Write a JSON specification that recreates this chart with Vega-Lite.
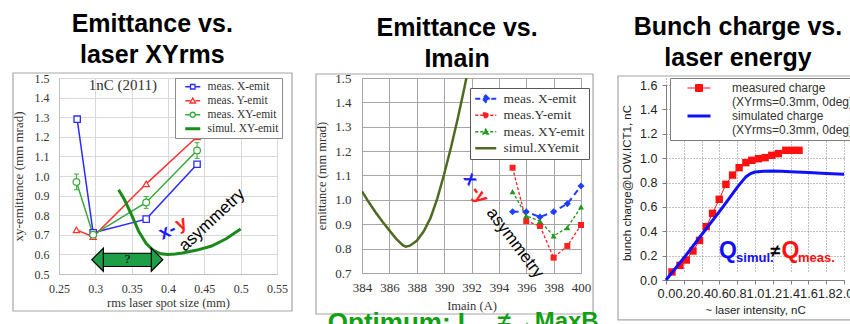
{
  "$schema": "https://vega.github.io/schema/vega-lite/v6.json",
  "padding": {"left": 11, "top": 11, "right": 0, "bottom": 0},
  "spacing": 85,
  "bounds": "flush",
  "background": "white",
  "resolve": {"scale": {"color": "independent", "x": "independent", "y": "independent"}, "legend": {"color": "independent"}},
  "config": {
    "title": {"font": "Liberation Sans", "fontSize": 25, "fontWeight": "bold", "color": "black", "lineHeight": 31, "anchor": "middle", "frame": "bounds"},
    "axis": {"labelFlush": false, "labelOverlap": false, "titleFontWeight": "normal"}
  },
  "datasets": {
    "p1": [
      {"s": "meas. X-emit", "x": 0.275, "y": 1.29}, {"s": "meas. X-emit", "x": 0.297, "y": 0.71}, {"s": "meas. X-emit", "x": 0.37, "y": 0.78}, {"s": "meas. X-emit", "x": 0.44, "y": 1.06},
      {"s": "meas. Y-emit", "x": 0.274, "y": 0.725}, {"s": "meas. Y-emit", "x": 0.297, "y": 0.69}, {"s": "meas. Y-emit", "x": 0.37, "y": 0.96}, {"s": "meas. Y-emit", "x": 0.44, "y": 1.2},
      {"s": "meas. XY-emit", "x": 0.274, "y": 0.97}, {"s": "meas. XY-emit", "x": 0.297, "y": 0.7}, {"s": "meas. XY-emit", "x": 0.37, "y": 0.865}, {"s": "meas. XY-emit", "x": 0.44, "y": 1.13}
    ],
    "p1err": [{"x": 0.274, "y": 0.93, "ye": 1.01}, {"x": 0.37, "y": 0.835, "ye": 0.895}, {"x": 0.44, "y": 1.09, "ye": 1.17}],
    "p1sim": [
      {"s": "simul. XY-emit", "x": 0.332, "y": 0.93}, {"s": "simul. XY-emit", "x": 0.34, "y": 0.88}, {"s": "simul. XY-emit", "x": 0.35, "y": 0.8},
      {"s": "simul. XY-emit", "x": 0.36, "y": 0.715}, {"s": "simul. XY-emit", "x": 0.37, "y": 0.655}, {"s": "simul. XY-emit", "x": 0.38, "y": 0.62},
      {"s": "simul. XY-emit", "x": 0.39, "y": 0.603}, {"s": "simul. XY-emit", "x": 0.4, "y": 0.6}, {"s": "simul. XY-emit", "x": 0.41, "y": 0.602},
      {"s": "simul. XY-emit", "x": 0.42, "y": 0.607}, {"s": "simul. XY-emit", "x": 0.44, "y": 0.622}, {"s": "simul. XY-emit", "x": 0.46, "y": 0.643},
      {"s": "simul. XY-emit", "x": 0.48, "y": 0.68}, {"s": "simul. XY-emit", "x": 0.5, "y": 0.73}
    ],
    "p2": [
      {"s": "meas. X-emit", "x": 395, "y": 0.951}, {"s": "meas. X-emit", "x": 396, "y": 0.951}, {"s": "meas. X-emit", "x": 397, "y": 0.93}, {"s": "meas. X-emit", "x": 398, "y": 0.951}, {"s": "meas. X-emit", "x": 399, "y": 0.984}, {"s": "meas. X-emit", "x": 400, "y": 1.057},
      {"s": "meas.Y-emit", "x": 395, "y": 1.132}, {"s": "meas.Y-emit", "x": 396, "y": 0.913}, {"s": "meas.Y-emit", "x": 397, "y": 0.893}, {"s": "meas.Y-emit", "x": 398, "y": 0.763}, {"s": "meas.Y-emit", "x": 399, "y": 0.811}, {"s": "meas.Y-emit", "x": 400, "y": 0.897},
      {"s": "meas. XY-emit", "x": 395, "y": 1.034}, {"s": "meas. XY-emit", "x": 396, "y": 0.934}, {"s": "meas. XY-emit", "x": 397, "y": 0.913}, {"s": "meas. XY-emit", "x": 398, "y": 0.852}, {"s": "meas. XY-emit", "x": 399, "y": 0.886}, {"s": "meas. XY-emit", "x": 400, "y": 0.971}
    ],
    "p2sim": [
      {"s": "simul.XYemit", "x": 384, "y": 1.035}, {"s": "simul.XYemit", "x": 384.5, "y": 0.99}, {"s": "simul.XYemit", "x": 385, "y": 0.948},
      {"s": "simul.XYemit", "x": 385.5, "y": 0.91}, {"s": "simul.XYemit", "x": 386, "y": 0.875}, {"s": "simul.XYemit", "x": 386.5, "y": 0.84},
      {"s": "simul.XYemit", "x": 387, "y": 0.813}, {"s": "simul.XYemit", "x": 387.2, "y": 0.808}, {"s": "simul.XYemit", "x": 387.5, "y": 0.812},
      {"s": "simul.XYemit", "x": 388, "y": 0.832}, {"s": "simul.XYemit", "x": 388.5, "y": 0.87}, {"s": "simul.XYemit", "x": 389, "y": 0.925},
      {"s": "simul.XYemit", "x": 389.5, "y": 1.005}, {"s": "simul.XYemit", "x": 390, "y": 1.105}, {"s": "simul.XYemit", "x": 390.5, "y": 1.215},
      {"s": "simul.XYemit", "x": 391, "y": 1.335}, {"s": "simul.XYemit", "x": 391.5, "y": 1.465}, {"s": "simul.XYemit", "x": 391.8, "y": 1.55}
    ],
    "p3m": [
      {"s": "measured charge", "x": 0.067, "y": 0.066}, {"s": "measured charge", "x": 0.157, "y": 0.12}, {"s": "measured charge", "x": 0.228, "y": 0.164},
      {"s": "measured charge", "x": 0.303, "y": 0.238}, {"s": "measured charge", "x": 0.377, "y": 0.325}, {"s": "measured charge", "x": 0.452, "y": 0.438},
      {"s": "measured charge", "x": 0.523, "y": 0.547}, {"s": "measured charge", "x": 0.598, "y": 0.662}, {"s": "measured charge", "x": 0.673, "y": 0.785},
      {"s": "measured charge", "x": 0.748, "y": 0.861}, {"s": "measured charge", "x": 0.822, "y": 0.922}, {"s": "measured charge", "x": 0.897, "y": 0.963},
      {"s": "measured charge", "x": 0.964, "y": 0.982}, {"s": "measured charge", "x": 1.039, "y": 0.995}, {"s": "measured charge", "x": 1.114, "y": 1.004},
      {"s": "measured charge", "x": 1.189, "y": 1.023}, {"s": "measured charge", "x": 1.263, "y": 1.037}, {"s": "measured charge", "x": 1.346, "y": 1.064},
      {"s": "measured charge", "x": 1.421, "y": 1.064}, {"s": "measured charge", "x": 1.495, "y": 1.064}
    ],
    "p3s": [
      {"s": "simulated charge", "x": 0, "y": 0}, {"s": "simulated charge", "x": 0.2, "y": 0.18}, {"s": "simulated charge", "x": 0.43, "y": 0.4},
      {"s": "simulated charge", "x": 0.64, "y": 0.6}, {"s": "simulated charge", "x": 0.8, "y": 0.76}, {"s": "simulated charge", "x": 0.85, "y": 0.805},
      {"s": "simulated charge", "x": 0.9, "y": 0.848}, {"s": "simulated charge", "x": 0.95, "y": 0.873}, {"s": "simulated charge", "x": 1.0, "y": 0.886},
      {"s": "simulated charge", "x": 1.1, "y": 0.893}, {"s": "simulated charge", "x": 1.2, "y": 0.894}, {"s": "simulated charge", "x": 1.3, "y": 0.892},
      {"s": "simulated charge", "x": 1.4, "y": 0.889}, {"s": "simulated charge", "x": 1.6, "y": 0.882}, {"s": "simulated charge", "x": 1.8, "y": 0.874},
      {"s": "simulated charge", "x": 2.0, "y": 0.867}
    ]
  },
  "hconcat": [
    {
      "width": 218, "height": 196,
      "title": {"text": ["Emittance vs.", "laser XYrms"], "offset": 4},
      "view": {"stroke": "#d0d0d0"},
      "encoding": {
        "x": {"field": "x", "type": "quantitative", "scale": {"domain": [0.25, 0.55], "nice": false, "zero": false},
          "axis": {"title": "rms laser spot size (mm)", "tickCount": 7, "format": ".2~f", "labelFlush": false, "labelOverlap": false, "labelBound": false, "grid": true, "gridColor": "#d9d9d9", "domainColor": "#bfbfbf", "ticks": false, "labelPadding": 9, "titlePadding": 2, "labelFont": "Liberation Serif", "labelFontSize": 12, "labelColor": "#333", "titleFont": "Liberation Serif", "titleFontSize": 12.5, "titleColor": "#333"}},
        "y": {"field": "y", "type": "quantitative", "scale": {"domain": [0.5, 1.5], "nice": false, "zero": false},
          "axis": {"title": "xy-emittance (mm mrad)", "values": [0.5, 0.6, 0.7, 0.8, 0.9, 1.0, 1.1, 1.2, 1.3, 1.4, 1.5], "format": ".1f", "labelFlush": false, "grid": true, "gridColor": "#d9d9d9", "domainColor": "#bfbfbf", "ticks": false, "labelPadding": 10, "titlePadding": 9, "labelFont": "Liberation Serif", "labelFontSize": 12, "labelColor": "#333", "titleFont": "Liberation Serif", "titleFontSize": 13, "titleColor": "#333"}}
      },
      "layer": [
        {"data": {"values": [{"x": 0.1867, "xe": 0.5706, "y": 1.5255, "ye": 0.3112}]}, "mark": {"type": "rect", "fillOpacity": 0, "stroke": "#a6a6a6", "strokeWidth": 1.2, "clip": false}, "encoding": {"x2": {"field": "xe"}, "y2": {"field": "ye"}}},
        {"data": {"values": [{"x": 0.338, "y": 1.464, "t": "1nC (2011)"}]}, "mark": {"type": "text", "font": "Liberation Serif", "fontSize": 15, "color": "#333"}, "encoding": {"text": {"field": "t"}}},
        {"data": {"name": "p1"}, "mark": {"type": "line", "strokeWidth": 1.5},
          "encoding": {"color": {"field": "s", "type": "nominal",
            "scale": {"domain": ["meas. X-emit", "meas. Y-emit", "meas. XY-emit", "simul. XY-emit"], "range": ["#2b2bff", "#ff3030", "#3aa83a", "#1a8a1a"]},
            "legend": {"title": null, "orient": "none", "legendX": 116, "legendY": 0, "fillColor": "white", "strokeColor": "#8c8c8c", "padding": 3,
              "labelFont": "Liberation Serif", "labelFontSize": 11.5, "labelColor": "#333", "symbolSize": 100, "symbolOffset": 9, "labelOffset": 9, "rowPadding": 1,
              "encode": {"symbols": {"update": {
                "shape": {"signal": "datum.value === 'meas. X-emit' ? 'M-1.5,0H-0.45M0.45,0H1.5M-0.45,-0.45H0.45V0.45H-0.45Z' : datum.value === 'meas. Y-emit' ? 'M-1.5,0H-0.5M0.5,0H1.5M0,-0.55L0.55,0.45H-0.55Z' : datum.value === 'meas. XY-emit' ? 'M-1.5,0H-0.5M0.5,0H1.5M0.5,0A0.5,0.5,0,1,1,-0.5,0A0.5,0.5,0,1,1,0.5,0' : 'M-1.5,0H1.5'"},
                "strokeWidth": {"signal": "datum.value === 'simul. XY-emit' ? 3 : 1.3"},
                "fill": {"value": "white"}, "opacity": {"value": 1}}}}}}}},
        {"data": {"name": "p1sim"}, "mark": {"type": "line", "strokeWidth": 3}, "encoding": {"color": {"field": "s", "type": "nominal"}}},
        {"data": {"name": "p1err"}, "mark": {"type": "rule", "color": "#3aa83a", "strokeWidth": 1}, "encoding": {"y2": {"field": "ye"}}},
        {"data": {"name": "p1err"}, "mark": {"type": "tick", "orient": "horizontal", "color": "#3aa83a", "size": 5, "thickness": 1, "opacity": 1}},
        {"data": {"name": "p1err"}, "mark": {"type": "tick", "orient": "horizontal", "color": "#3aa83a", "size": 5, "thickness": 1, "opacity": 1}, "encoding": {"y": {"field": "ye", "type": "quantitative"}}},
        {"data": {"name": "p1"}, "transform": [{"filter": "datum.s === 'meas. X-emit'"}], "mark": {"type": "point", "shape": "square", "filled": true, "fill": "white", "stroke": "#2b2bff", "strokeWidth": 1.3, "size": 40, "opacity": 1}},
        {"data": {"name": "p1"}, "transform": [{"filter": "datum.s === 'meas. Y-emit'"}], "mark": {"type": "point", "shape": "triangle-up", "filled": true, "fill": "white", "stroke": "#ff3030", "strokeWidth": 1.2, "size": 40, "opacity": 1}},
        {"data": {"name": "p1"}, "transform": [{"filter": "datum.s === 'meas. XY-emit'"}], "mark": {"type": "point", "shape": "circle", "filled": true, "fill": "white", "stroke": "#3aa83a", "strokeWidth": 1.2, "size": 45, "opacity": 1}},
        {"data": {"values": [{"x": 0.311, "xe": 0.377, "y": 0.605, "ye": 0.539}]}, "mark": {"type": "rect", "fill": "#1f9e48", "stroke": "black", "strokeWidth": 1.2}, "encoding": {"x2": {"field": "xe"}, "y2": {"field": "ye"}}},
        {"data": {"values": [{"x": 0.311, "y": 0.573}]}, "mark": {"type": "point", "shape": "M-1,0L0,-1L0,1Z", "size": 529, "filled": true, "fill": "#1f9e48", "stroke": "black", "strokeWidth": 1.2, "opacity": 1}},
        {"data": {"values": [{"x": 0.377, "y": 0.573}]}, "mark": {"type": "point", "shape": "M1,0L0,-1L0,1Z", "size": 529, "filled": true, "fill": "#1f9e48", "stroke": "black", "strokeWidth": 1.2, "opacity": 1}},
        {"data": {"values": [{"x": 0.312, "xe": 0.376, "y": 0.6035, "ye": 0.5405}]}, "mark": {"type": "rect", "fill": "#1f9e48"}, "encoding": {"x2": {"field": "xe"}, "y2": {"field": "ye"}}},
        {"data": {"values": [{"x": 0.344, "y": 0.574, "t": "?"}]}, "mark": {"type": "text", "font": "Liberation Serif", "fontSize": 13, "color": "black"}, "encoding": {"text": {"field": "t"}}},
        {"data": {"values": [{"x": 0.399, "y": 0.72, "t": "x-"}]}, "mark": {"type": "text", "font": "Liberation Sans", "fontSize": 19, "fontWeight": "bold", "color": "#1a1aff", "angle": -25}, "encoding": {"text": {"field": "t"}}},
        {"data": {"values": [{"x": 0.418, "y": 0.758, "t": "y"}]}, "mark": {"type": "text", "font": "Liberation Sans", "fontSize": 19, "fontWeight": "bold", "color": "#ff2020", "angle": -25}, "encoding": {"text": {"field": "t"}}},
        {"data": {"values": [{"x": 0.4605, "y": 0.7755, "t": "asymmetry"}]}, "mark": {"type": "text", "font": "Liberation Sans", "fontSize": 17, "color": "black", "angle": -43}, "encoding": {"text": {"field": "t"}}}
      ]
    },
    {
      "width": 219, "height": 195,
      "title": {"text": ["Emittance vs.", "Imain"], "offset": 0},
      "view": {"stroke": "#a6a6a6"},
      "encoding": {
        "x": {"field": "x", "type": "quantitative", "scale": {"domain": [384, 400], "nice": false, "zero": false},
          "axis": {"title": "Imain (A)", "values": [384, 386, 388, 390, 392, 394, 396, 398, 400], "format": "d", "labelFlush": false, "grid": true, "gridColor": "#a6a6a6", "domainColor": "#a6a6a6", "ticks": false, "labelPadding": 8, "titlePadding": 5, "labelFont": "Liberation Serif", "labelFontSize": 13, "labelColor": "#333", "titleFont": "Liberation Serif", "titleFontSize": 12.5, "titleColor": "#333"}},
        "y": {"field": "y", "type": "quantitative", "scale": {"domain": [0.7, 1.5], "nice": false, "zero": false},
          "axis": {"title": "emittance (mm mrad)", "values": [0.7, 0.8, 0.9, 1.0, 1.1, 1.2, 1.3, 1.4, 1.5], "format": ".1f", "labelFlush": false, "grid": true, "gridColor": "#a6a6a6", "domainColor": "#a6a6a6", "ticks": false, "labelPadding": 11, "titlePadding": 6, "labelFont": "Liberation Serif", "labelFontSize": 13, "labelColor": "#333", "titleFont": "Liberation Serif", "titleFontSize": 12.5, "titleColor": "#333"}}
      },
      "layer": [
        {"data": {"values": [{"x": 380.64, "xe": 400.88, "y": 1.5164, "ye": 0.5318}]}, "mark": {"type": "rect", "fillOpacity": 0, "stroke": "#a6a6a6", "strokeWidth": 1.2, "clip": false}, "encoding": {"x2": {"field": "xe"}, "y2": {"field": "ye"}}},
        {"data": {"name": "p2sim"}, "mark": {"type": "line", "strokeWidth": 2.5, "clip": true},
          "encoding": {"color": {"field": "s", "type": "nominal",
            "scale": {"domain": ["meas. X-emit", "meas.Y-emit", "meas. XY-emit", "simul.XYemit"], "range": ["#1f3fff", "#ff2020", "#1f9a1f", "#4e6b22"]},
            "legend": {"title": null, "orient": "none", "legendX": 108, "legendY": 10, "fillColor": "white", "strokeColor": "#595959", "padding": 4,
              "labelFont": "Liberation Serif", "labelFontSize": 13.5, "labelColor": "#333", "symbolSize": 100, "symbolOffset": 5, "labelOffset": 11, "rowPadding": 1.5,
              "encode": {"symbols": {"update": {
                "shape": {"signal": "datum.value === 'meas. X-emit' ? 'M-2.1,0H2.1M0,-0.65L0.65,0L0,0.65L-0.65,0Z' : datum.value === 'meas.Y-emit' ? 'M-2.1,0H2.1M-0.45,-0.45H0.45V0.45H-0.45Z' : datum.value === 'meas. XY-emit' ? 'M-2.1,0H2.1M0,-0.55L0.55,0.45H-0.55Z' : 'M-2.1,0H2.1'"},
                "strokeWidth": {"signal": "datum.value === 'simul.XYemit' ? 2.5 : datum.value === 'meas. X-emit' ? 2 : 1.3"},
                "strokeDash": {"signal": "datum.value === 'simul.XYemit' ? [] : datum.value === 'meas. X-emit' ? [5, 3] : [3, 2]"},
                "fill": {"signal": "datum.value === 'meas. X-emit' ? '#1f3fff' : datum.value === 'meas.Y-emit' ? '#ff2020' : datum.value === 'meas. XY-emit' ? '#1f9a1f' : 'none'"},
                "opacity": {"value": 1}}}}}}}},
        {"data": {"name": "p2"}, "transform": [{"filter": "datum.s === 'meas. X-emit'"}], "mark": {"type": "line", "strokeWidth": 2, "strokeDash": [6, 4]}, "encoding": {"color": {"field": "s", "type": "nominal"}}},
        {"data": {"name": "p2"}, "transform": [{"filter": "datum.s === 'meas.Y-emit'"}], "mark": {"type": "line", "strokeWidth": 1.3, "strokeDash": [3, 2]}, "encoding": {"color": {"field": "s", "type": "nominal"}}},
        {"data": {"name": "p2"}, "transform": [{"filter": "datum.s === 'meas. XY-emit'"}], "mark": {"type": "line", "strokeWidth": 1.3, "strokeDash": [3, 2]}, "encoding": {"color": {"field": "s", "type": "nominal"}}},
        {"data": {"name": "p2"}, "transform": [{"filter": "datum.s === 'meas. X-emit'"}], "mark": {"type": "point", "shape": "diamond", "filled": true, "color": "#1f3fff", "size": 50, "opacity": 1}},
        {"data": {"name": "p2"}, "transform": [{"filter": "datum.s === 'meas.Y-emit'"}], "mark": {"type": "point", "shape": "square", "filled": true, "color": "#ff2020", "size": 36, "opacity": 1}},
        {"data": {"name": "p2"}, "transform": [{"filter": "datum.s === 'meas. XY-emit'"}], "mark": {"type": "point", "shape": "triangle-up", "filled": true, "color": "#1f9a1f", "size": 36, "opacity": 1}},
        {"data": {"values": [{"x": 391.96, "y": 1.086, "t": "x"}]}, "mark": {"type": "text", "font": "Liberation Sans", "fontSize": 19, "fontWeight": "bold", "color": "#1a1aff", "angle": 55}, "encoding": {"text": {"field": "t"}}},
        {"data": {"values": [{"x": 392.6, "y": 1.022, "t": "-y"}]}, "mark": {"type": "text", "font": "Liberation Sans", "fontSize": 19, "fontWeight": "bold", "color": "#ff2020", "angle": 55}, "encoding": {"text": {"field": "t"}}},
        {"data": {"values": [{"x": 395.18, "y": 0.823, "t": "asymmetry"}]}, "mark": {"type": "text", "font": "Liberation Sans", "fontSize": 17, "color": "black", "angle": 53}, "encoding": {"text": {"field": "t"}}},
        {"data": {"values": [{"x": 381.5, "y": 0.548, "t": "Optimum: I"}]}, "mark": {"type": "text", "font": "Liberation Sans", "fontSize": 26, "fontWeight": "bold", "color": "#12a012", "align": "left", "baseline": "top", "clip": false}, "encoding": {"text": {"field": "t"}}},
        {"data": {"values": [{"x": 393.9, "y": 0.548, "t": "≠→MaxB"}]}, "mark": {"type": "text", "font": "Liberation Sans", "fontSize": 24, "fontWeight": "bold", "color": "#12a012", "align": "left", "baseline": "top", "clip": false}, "encoding": {"text": {"field": "t"}}}
      ]
    },
    {
      "width": 178, "height": 202,
      "title": {"text": ["Bunch charge vs.", "laser energy"], "offset": 4},
      "view": {"stroke": null},
      "encoding": {
        "x": {"field": "x", "type": "quantitative", "scale": {"domain": [0, 2], "nice": false, "zero": false},
          "axis": {"title": "~ laser intensity, nC", "values": [0, 0.2, 0.4, 0.6, 0.8, 1.0, 1.2, 1.4, 1.6, 1.8, 2.0], "format": ".1f", "labelFlush": false, "grid": true, "gridColor": "#808080", "gridDash": [1, 2], "domainColor": "#808080", "tickColor": "#808080", "tickSize": 4, "labelPadding": 3, "titlePadding": 5, "labelFont": "Liberation Sans", "labelFontSize": 12.8, "labelColor": "#222", "titleFont": "Liberation Sans", "titleFontSize": 11.5, "titleColor": "#222"}},
        "y": {"field": "y", "type": "quantitative", "scale": {"domain": [0, 1.6], "range": [202, 7], "nice": false, "zero": false},
          "axis": {"title": "bunch charge@LOW.ICT1, nC", "values": [0, 0.2, 0.4, 0.6, 0.8, 1.0, 1.2, 1.4, 1.6], "format": ".1f", "labelFlush": false, "grid": true, "gridColor": "#808080", "gridDash": [1, 2], "domainColor": "#808080", "tickColor": "#808080", "tickSize": 4, "labelPadding": 5, "titlePadding": 7, "labelFont": "Liberation Sans", "labelFontSize": 12.5, "labelColor": "#222", "titleFont": "Liberation Sans", "titleFontSize": 11.5, "titleColor": "#222"}}
      },
      "layer": [
        {"data": {"values": [{"x": -0.539, "xe": 2.15, "y": 1.674, "ye": -0.328}]}, "mark": {"type": "rect", "fillOpacity": 0, "stroke": "#a6a6a6", "strokeWidth": 1.2, "clip": false}, "encoding": {"x2": {"field": "xe"}, "y2": {"field": "ye"}}},
        {"data": {"name": "p3m"}, "mark": {"type": "line", "strokeWidth": 1},
          "encoding": {"color": {"field": "s", "type": "nominal",
            "scale": {"domain": ["measured charge", "simulated charge"], "range": ["#ff1010", "#1010ff"]},
            "legend": {"title": null, "orient": "none", "legendX": 4, "legendY": 0, "fillColor": "white", "strokeColor": "#808080", "padding": 4,
              "labelFont": "Liberation Sans", "labelFontSize": 12, "labelColor": "#333", "labelLineHeight": 14.3, "symbolSize": 100, "symbolOffset": 19, "labelOffset": 27, "rowPadding": 2,
              "labelExpr": "[datum.label, '(XYrms=0.3mm, 0deg)']",
              "encode": {"symbols": {"update": {
                "shape": {"signal": "datum.value === 'measured charge' ? 'M-2.3,0H2.3M-0.7,-0.7H0.7V0.7H-0.7Z' : 'M-2.3,0H2.3'"},
                "strokeWidth": {"signal": "datum.value === 'measured charge' ? 1 : 3"},
                "fill": {"signal": "datum.value === 'measured charge' ? '#ff1010' : 'none'"},
                "opacity": {"value": 1}}}}}}}},
        {"data": {"name": "p3m"}, "mark": {"type": "point", "shape": "square", "filled": true, "color": "#ff1010", "size": 55, "opacity": 1}},
        {"data": {"name": "p3s"}, "mark": {"type": "line", "strokeWidth": 3}, "encoding": {"color": {"field": "s", "type": "nominal"}}},
        {"data": {"values": [{"x": 0.697, "y": 0.238, "t": "Q"}]}, "mark": {"type": "text", "font": "Liberation Sans", "fontSize": 23, "fontWeight": "bold", "color": "#1010ff"}, "encoding": {"text": {"field": "t"}}},
        {"data": {"values": [{"x": 0.787, "y": 0.18, "t": "simul."}]}, "mark": {"type": "text", "font": "Liberation Sans", "fontSize": 13, "fontWeight": "bold", "color": "#1010ff", "align": "left"}, "encoding": {"text": {"field": "t"}}},
        {"data": {"values": [{"x": 1.23, "y": 0.23, "t": "≠"}]}, "mark": {"type": "text", "font": "Liberation Sans", "fontSize": 18, "fontWeight": "bold", "color": "black"}, "encoding": {"text": {"field": "t"}}},
        {"data": {"values": [{"x": 1.399, "y": 0.238, "t": "Q"}]}, "mark": {"type": "text", "font": "Liberation Sans", "fontSize": 23, "fontWeight": "bold", "color": "#ff1010"}, "encoding": {"text": {"field": "t"}}},
        {"data": {"values": [{"x": 1.483, "y": 0.18, "t": "meas."}]}, "mark": {"type": "text", "font": "Liberation Sans", "fontSize": 13, "fontWeight": "bold", "color": "#ff1010", "align": "left"}, "encoding": {"text": {"field": "t"}}}
      ]
    }
  ]
}
